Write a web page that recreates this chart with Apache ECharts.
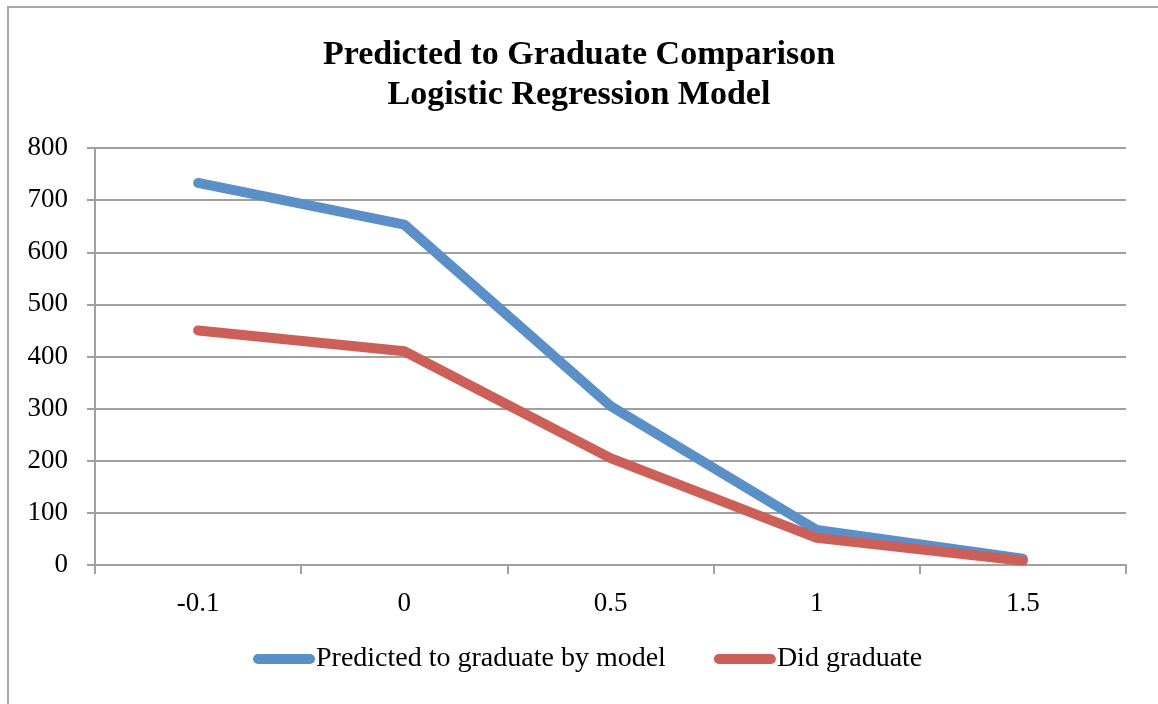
<!DOCTYPE html>
<html>
<head>
<meta charset="utf-8">
<script src="https://cdn.jsdelivr.net/npm/echarts@6/dist/echarts.min.js"></script>
<style>
  html, body { margin: 0; padding: 0; background: #fff; }
  #chart { width: 1158px; height: 704px; }
</style>
</head>
<body>
<div id="chart"></div>
<script>
// Score bands on the x axis
const categories = ['-0.1', '0', '0.5', '1', '1.5'];
// Student counts per band
const predictedByModel = [733, 653, 305, 67, 12];
const didGraduate = [450, 410, 205, 52, 8];
// Value axis ticks
const yTicks = [0, 100, 200, 300, 400, 500, 600, 700, 800];

const FONT = '"Liberation Serif", "DejaVu Serif", serif';
const BLUE = '#5b8fc8';
const RED = '#cc6058';
const GRID = '#a0a0a0';

const chart = echarts.init(document.getElementById('chart'), null, { renderer: 'canvas' });

chart.setOption({
  backgroundColor: '#ffffff',
  animation: false,
  graphic: [{
    type: 'rect',
    shape: { x: 8, y: 7, width: 1200, height: 800 },
    style: { fill: 'none', stroke: '#a8a8a8', lineWidth: 2 },
    silent: true
  }],
  title: {
    text: 'Predicted to Graduate Comparison\nLogistic Regression Model',
    left: 'center',
    top: 30,
    textStyle: {
      fontFamily: FONT,
      fontWeight: 'bold',
      fontSize: 34,
      lineHeight: 40,
      color: '#000'
    }
  },
  grid: { left: 95, right: 32, top: 148, bottom: 139, containLabel: false },
  xAxis: {
    type: 'category',
    data: categories,
    boundaryGap: true,
    axisLine: { lineStyle: { color: GRID, width: 2 } },
    axisTick: { show: true, alignWithLabel: false, length: 9, lineStyle: { color: GRID, width: 2 } },
    axisLabel: { fontFamily: FONT, fontSize: 27, color: '#000', margin: 25 },
    splitLine: { show: false }
  },
  yAxis: {
    type: 'value',
    min: yTicks[0],
    max: yTicks[yTicks.length - 1],
    interval: yTicks[1] - yTicks[0],
    axisLine: { show: true, lineStyle: { color: GRID, width: 2 } },
    axisTick: { show: true, length: 8, lineStyle: { color: GRID, width: 2 } },
    axisLabel: { fontFamily: FONT, fontSize: 27, color: '#000', margin: 27, padding: [10, 0, 0, 0] },
    splitLine: { show: true, lineStyle: { color: GRID, width: 2 } }
  },
  legend: {
    top: 640,
    left: 248,
    itemWidth: 62,
    itemHeight: 10,
    itemGap: 48,
    icon: 'path://M5,0 H57 A5,5 0 0 1 57,10 H5 A5,5 0 0 1 5,0 Z',
    textStyle: { fontFamily: FONT, fontSize: 28, color: '#000', padding: [0, 0, 0, -4] },
    data: ['Predicted to graduate by model', 'Did graduate']
  },
  series: [
    {
      name: 'Predicted to graduate by model',
      type: 'line',
      data: predictedByModel,
      symbol: 'none',
      color: BLUE,
      lineStyle: { color: BLUE, width: 10, cap: 'round', join: 'round' }
    },
    {
      name: 'Did graduate',
      type: 'line',
      data: didGraduate,
      symbol: 'none',
      color: RED,
      lineStyle: { color: RED, width: 10, cap: 'round', join: 'round' }
    }
  ]
});
</script>
</body>
</html>
